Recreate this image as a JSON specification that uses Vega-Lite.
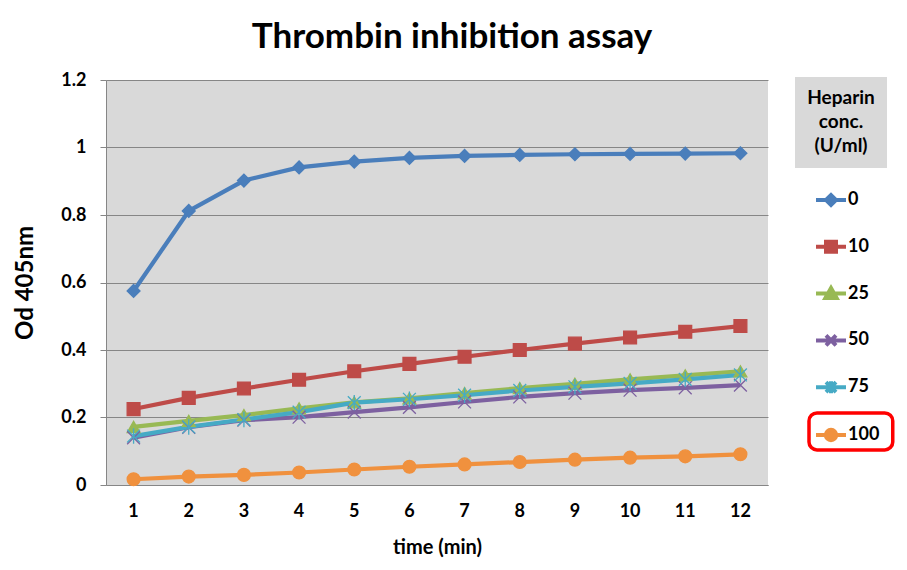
{
  "$schema": "https://vega.github.io/schema/vega-lite/v6.json",
  "width": 662,
  "height": 405,
  "autosize": "none",
  "padding": {"left": 106, "top": 80, "right": 139, "bottom": 85},
  "background": "white",
  "title": {
    "text": "Thrombin inhibition assay",
    "font": "Lato",
    "fontSize": 35,
    "fontWeight": "bold",
    "color": "#000000",
    "anchor": "middle",
    "dx": 15,
    "offset": 16
  },
  "config": {
    "view": {"fill": "#D9D9D9", "stroke": null},
    "axis": {
      "labelFont": "Lato",
      "labelFontWeight": "bold",
      "labelColor": "#000000",
      "titleFont": "Lato",
      "titleFontWeight": "bold",
      "titleColor": "#000000",
      "domainColor": "#868686",
      "gridColor": "#868686",
      "gridOpacity": 1,
      "tickColor": "#868686"
    }
  },
  "data": {
    "values": [
      {"time": 1, "conc": "0", "od": 0.575}, {"time": 2, "conc": "0", "od": 0.812}, {"time": 3, "conc": "0", "od": 0.902}, {"time": 4, "conc": "0", "od": 0.941}, {"time": 5, "conc": "0", "od": 0.958}, {"time": 6, "conc": "0", "od": 0.969}, {"time": 7, "conc": "0", "od": 0.975}, {"time": 8, "conc": "0", "od": 0.978}, {"time": 9, "conc": "0", "od": 0.980}, {"time": 10, "conc": "0", "od": 0.981}, {"time": 11, "conc": "0", "od": 0.982}, {"time": 12, "conc": "0", "od": 0.983},
      {"time": 1, "conc": "10", "od": 0.225}, {"time": 2, "conc": "10", "od": 0.258}, {"time": 3, "conc": "10", "od": 0.286}, {"time": 4, "conc": "10", "od": 0.312}, {"time": 5, "conc": "10", "od": 0.337}, {"time": 6, "conc": "10", "od": 0.359}, {"time": 7, "conc": "10", "od": 0.380}, {"time": 8, "conc": "10", "od": 0.400}, {"time": 9, "conc": "10", "od": 0.419}, {"time": 10, "conc": "10", "od": 0.437}, {"time": 11, "conc": "10", "od": 0.454}, {"time": 12, "conc": "10", "od": 0.471},
      {"time": 1, "conc": "25", "od": 0.172}, {"time": 2, "conc": "25", "od": 0.190}, {"time": 3, "conc": "25", "od": 0.207}, {"time": 4, "conc": "25", "od": 0.227}, {"time": 5, "conc": "25", "od": 0.245}, {"time": 6, "conc": "25", "od": 0.257}, {"time": 7, "conc": "25", "od": 0.272}, {"time": 8, "conc": "25", "od": 0.287}, {"time": 9, "conc": "25", "od": 0.300}, {"time": 10, "conc": "25", "od": 0.313}, {"time": 11, "conc": "25", "od": 0.325}, {"time": 12, "conc": "25", "od": 0.337},
      {"time": 1, "conc": "50", "od": 0.140}, {"time": 2, "conc": "50", "od": 0.171}, {"time": 3, "conc": "50", "od": 0.192}, {"time": 4, "conc": "50", "od": 0.201}, {"time": 5, "conc": "50", "od": 0.216}, {"time": 6, "conc": "50", "od": 0.230}, {"time": 7, "conc": "50", "od": 0.246}, {"time": 8, "conc": "50", "od": 0.261}, {"time": 9, "conc": "50", "od": 0.272}, {"time": 10, "conc": "50", "od": 0.281}, {"time": 11, "conc": "50", "od": 0.288}, {"time": 12, "conc": "50", "od": 0.296},
      {"time": 1, "conc": "75", "od": 0.145}, {"time": 2, "conc": "75", "od": 0.172}, {"time": 3, "conc": "75", "od": 0.194}, {"time": 4, "conc": "75", "od": 0.216}, {"time": 5, "conc": "75", "od": 0.244}, {"time": 6, "conc": "75", "od": 0.254}, {"time": 7, "conc": "75", "od": 0.266}, {"time": 8, "conc": "75", "od": 0.280}, {"time": 9, "conc": "75", "od": 0.291}, {"time": 10, "conc": "75", "od": 0.301}, {"time": 11, "conc": "75", "od": 0.313}, {"time": 12, "conc": "75", "od": 0.326},
      {"time": 1, "conc": "100", "od": 0.017}, {"time": 2, "conc": "100", "od": 0.025}, {"time": 3, "conc": "100", "od": 0.030}, {"time": 4, "conc": "100", "od": 0.037}, {"time": 5, "conc": "100", "od": 0.046}, {"time": 6, "conc": "100", "od": 0.054}, {"time": 7, "conc": "100", "od": 0.061}, {"time": 8, "conc": "100", "od": 0.068}, {"time": 9, "conc": "100", "od": 0.075}, {"time": 10, "conc": "100", "od": 0.081}, {"time": 11, "conc": "100", "od": 0.085}, {"time": 12, "conc": "100", "od": 0.091}
    ]
  },
  "encoding": {
    "x": {
      "field": "time",
      "type": "ordinal",
      "bandPosition": 0.5,
      "scale": {"type": "band", "paddingInner": 0, "paddingOuter": 0},
      "axis": {
        "title": "time (min)",
        "labelAngle": 0,
        "labelFontSize": 18,
        "labelPadding": 17,
        "ticks": false,
        "tickSize": 0,
        "grid": false,
        "titleFontSize": 20,
        "titlePadding": 17
      }
    },
    "y": {
      "field": "od",
      "type": "quantitative",
      "scale": {"domain": [0, 1.2]},
      "axis": {
        "title": "Od 405nm",
        "values": [0, 0.2, 0.4, 0.6, 0.8, 1, 1.2],
        "format": "~g",
        "labelFontSize": 18,
        "labelPadding": 14,
        "tickSize": 6,
        "titleFontSize": 24,
        "titlePadding": 23
      }
    }
  },
  "layer": [
    {
      "mark": {"type": "line", "strokeWidth": 4.2},
      "encoding": {
        "color": {
          "field": "conc",
          "type": "nominal",
          "scale": {
            "domain": ["0", "10", "25", "50", "75", "100"],
            "range": ["#4A7EBB", "#BE4B48", "#98B954", "#7D60A0", "#46AAC5", "#F0913E"]
          },
          "legend": {
            "title": null,
            "orient": "none",
            "legendX": 703,
            "legendY": 98,
            "padding": 0,
            "symbolSize": 1600,
            "symbolStrokeWidth": 4,
            "rowPadding": 9.8,
            "labelOffset": -5,
            "labelFont": "Lato",
            "labelFontSize": 18,
            "labelFontWeight": "bold",
            "labelColor": "#000000",
            "encode": {
              "symbols": {
                "update": {
                  "shape": {"signal": "datum.value === '0' ? 'M-0.75,0H0.75M-0.25,0L0,-0.25L0.25,0L0,0.25Z' : datum.value === '10' ? 'M-0.75,0H0.75M-0.25,-0.25H0.25V0.25H-0.25Z' : datum.value === '25' ? 'M-0.75,0H0.75M0,-0.28L0.28,0.22H-0.28Z' : datum.value === '50' ? 'M-0.75,0H0.75M-0.25,-0.25L0.25,0.25M-0.25,0.25L0.25,-0.25' : datum.value === '75' ? 'M-0.75,0H0.75M-0.25,-0.25L0.25,0.25M-0.25,0.25L0.25,-0.25M0,-0.3V0.3' : 'M-0.75,0H0.75M-0.26,0A0.26,0.26 0 1,0 0.26,0A0.26,0.26 0 1,0 -0.26,0ZM2.6,0'"},
                  "fill": {"scale": "color", "field": "value"},
                  "stroke": {"scale": "color", "field": "value"},
                  "strokeWidth": {"value": 4},
                  "opacity": {"value": 1}
                }
              },
              "entries": {
                "update": {
                  "stroke": {"signal": "datum.index === 5 ? '#FF0000' : 'transparent'"},
                  "strokeWidth": {"value": 3.5},
                  "cornerRadius": {"value": 8}
                }
              }
            }
          }
        }
      }
    },
    {
      "mark": {"type": "point", "filled": true, "size": 165, "strokeWidth": 1.3, "opacity": 1},
      "encoding": {
        "color": {"field": "conc", "type": "nominal"},
        "stroke": {
          "field": "conc",
          "type": "nominal",
          "scale": {
            "domain": ["0", "10", "25", "50", "75", "100"],
            "range": ["#4A7EBB", "#BE4B48", "#98B954", "#7D60A0", "#46AAC5", "#F0913E"]
          },
          "legend": null
        },
        "shape": {
          "field": "conc",
          "type": "nominal",
          "scale": {
            "range": ["diamond", "square", "circle", "triangle-up", "M-1,-1L1,1M-1,1L1,-1", "M-1,-1L1,1M-1,1L1,-1M0,-1.2V1.2"]
          },
          "legend": {
            "title": ["Heparin", "conc.", "(U/ml)"],
            "values": [],
            "orient": "none",
            "legendX": 689,
            "legendY": -3,
            "padding": 12,
            "fillColor": "#D9D9D9",
            "titleFont": "Lato",
            "titleFontSize": 19,
            "titleFontWeight": "bold",
            "titleColor": "#000000",
            "titleAlign": "center",
            "titleLineHeight": 24,
            "titlePadding": 0
          }
        }
      }
    }
  ]
}
